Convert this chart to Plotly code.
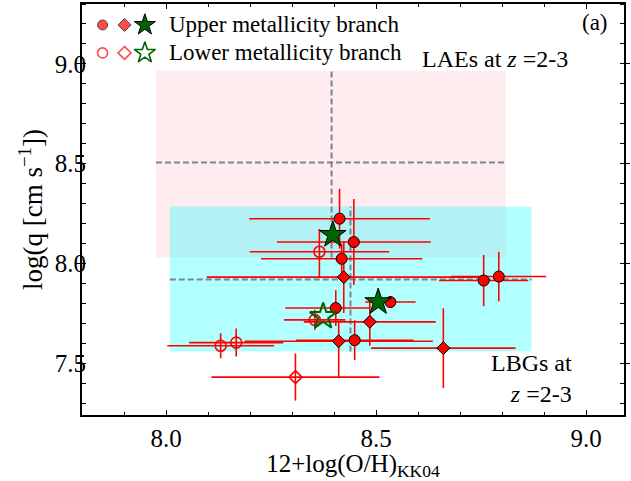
import plotly.graph_objects as go

# ---------------- data ----------------
# Upper metallicity branch: filled circles
up_circ_x = [8.413, 8.447, 8.418, 8.404, 8.449, 8.534, 8.756, 8.792]
up_circ_y = [8.224, 8.107, 8.023, 7.776, 7.615, 7.806, 7.914, 7.934]
up_circ_xm = [0.215, 0.183, 0.192, 0.12, 0.14, 0.06, 0.106, 0.113]
up_circ_xp = [0.215, 0.183, 0.192, 0.08, 0.14, 0.06, 0.106, 0.113]
up_circ_ym = [0.15, 0.216, 0.075, 0.09, 0.10, 0.03, 0.128, 0.124]
up_circ_yp = [0.15, 0.216, 0.075, 0.09, 0.10, 0.03, 0.128, 0.124]

# Upper metallicity branch: filled diamonds
up_diam_x = [8.423, 8.485, 8.411, 8.660]
up_diam_y = [7.931, 7.707, 7.610, 7.575]
up_diam_xm = [0.326, 0.157, 0.224, 0.172]
up_diam_xp = [0.326, 0.157, 0.224, 0.172]
up_diam_ym = [0.18, 0.12, 0.18, 0.20]
up_diam_yp = [0.18, 0.12, 0.10, 0.20]

# Upper metallicity branch: stars (stacks)
up_star_x = [8.397, 8.505]
up_star_y = [8.143, 7.806]

# Lower metallicity branch: open circles
lo_circ_x = [8.365, 8.130, 8.167, 8.354]
lo_circ_y = [8.058, 7.587, 7.603, 7.717]
lo_circ_xm = [0.166, 0.127, 0.112, 0.073]
lo_circ_xp = [0.166, 0.127, 0.112, 0.073]
lo_circ_ym = [0.128, 0.063, 0.07, 0.05]
lo_circ_yp = [0.114, 0.063, 0.07, 0.05]

# Lower metallicity branch: open diamonds
lo_diam_x = [8.308]
lo_diam_y = [7.430]
lo_diam_xm = [0.20]
lo_diam_xp = [0.20]
lo_diam_ym = [0.118]
lo_diam_yp = [0.118]

# Lower metallicity branch: stars
lo_star_x = [8.374]
lo_star_y = [7.734]

# Comparison samples: ranges and medians
lae_x_range = [7.976, 8.809]
lae_y_range = [8.030, 8.966]
lae_med = [8.394, 8.505]
lbg_x_range = [8.009, 8.870]
lbg_y_range = [7.558, 8.285]
lbg_med = [8.439, 7.919]

x_range = [7.8, 9.09]
y_range = [7.24, 9.30]

FONT = "Liberation Serif"
RED = "#ff0000"
GREEN = "#006400"
GRAY = "#7a8593"

fig = go.Figure()

# shaded regions
fig.add_shape(type="rect", x0=lae_x_range[0], x1=lae_x_range[1], y0=lae_y_range[0], y1=lae_y_range[1],
              fillcolor="rgba(255,192,203,0.3)", line_width=0, layer="below")
fig.add_shape(type="rect", x0=lbg_x_range[0], x1=lbg_x_range[1], y0=lbg_y_range[0], y1=lbg_y_range[1],
              fillcolor="rgba(0,255,255,0.3)", line_width=0, layer="below")
# dashed median crosses
for xr, yr, med in [(lae_x_range, lae_y_range, lae_med), (lbg_x_range, lbg_y_range, lbg_med)]:
    fig.add_shape(type="line", x0=med[0], x1=med[0], y0=yr[0], y1=yr[1],
                  line=dict(color=GRAY, width=2, dash="6px,3px"), layer="below")
    fig.add_shape(type="line", x0=xr[0], x1=xr[1], y0=med[1], y1=med[1],
                  line=dict(color=GRAY, width=2, dash="6px,3px"), layer="below")

# error bars (drawn first, under all markers)
all_x = up_circ_x + up_diam_x + lo_circ_x + lo_diam_x
all_y = up_circ_y + up_diam_y + lo_circ_y + lo_diam_y
all_xm = up_circ_xm + up_diam_xm + lo_circ_xm + lo_diam_xm
all_xp = up_circ_xp + up_diam_xp + lo_circ_xp + lo_diam_xp
all_ym = up_circ_ym + up_diam_ym + lo_circ_ym + lo_diam_ym
all_yp = up_circ_yp + up_diam_yp + lo_circ_yp + lo_diam_yp
fig.add_trace(go.Scatter(
    x=all_x, y=all_y, mode="markers", marker=dict(color="rgba(0,0,0,0)", size=1),
    error_x=dict(type="data", array=all_xp, arrayminus=all_xm, color=RED, thickness=1.6, width=0),
    error_y=dict(type="data", array=all_yp, arrayminus=all_ym, color=RED, thickness=1.6, width=0),
    showlegend=False, hoverinfo="skip"))

def pts(x, y, symbol, size, color, line_color, line_width):
    fig.add_trace(go.Scatter(x=x, y=y, mode="markers",
                             marker=dict(symbol=symbol, size=size, color=color,
                                         line=dict(color=line_color, width=line_width)),
                             showlegend=False))

pts(lo_circ_x, lo_circ_y, "circle-open", 11, RED, RED, 1.6)
pts(lo_diam_x, lo_diam_y, "diamond-open", 10, RED, RED, 1.6)
pts(up_circ_x, up_circ_y, "circle", 11, RED, "black", 1)
pts(up_diam_x, up_diam_y, "diamond", 10, RED, "black", 1)
pts(lo_star_x, lo_star_y, "star-open", 20, GREEN, GREEN, 2)
pts(up_star_x, up_star_y, "star", 20, GREEN, "black", 1)

# legend symbols on an overlay axis in plot-fraction units
leg_rows = [0.949, 0.881]
leg_cols = [0.038, 0.0785, 0.116]
fig.add_trace(go.Scatter(x=leg_cols[:2], y=[leg_rows[0]] * 2, xaxis="x2", yaxis="y2", mode="markers",
                         marker=dict(symbol=["circle", "diamond"], size=[10, 10], color=RED,
                                     line=dict(color="black", width=1)), showlegend=False, hoverinfo="skip"))
fig.add_trace(go.Scatter(x=[leg_cols[2]], y=[leg_rows[0]], xaxis="x2", yaxis="y2", mode="markers",
                         marker=dict(symbol="star", size=16, color=GREEN,
                                     line=dict(color="black", width=1)), showlegend=False, hoverinfo="skip"))
fig.add_trace(go.Scatter(x=leg_cols[:2], y=[leg_rows[1]] * 2, xaxis="x2", yaxis="y2", mode="markers",
                         marker=dict(symbol=["circle-open", "diamond-open"], size=[10, 10], color=RED,
                                     line=dict(color=RED, width=1.6)), showlegend=False, hoverinfo="skip"))
fig.add_trace(go.Scatter(x=[leg_cols[2]], y=[leg_rows[1]], xaxis="x2", yaxis="y2", mode="markers",
                         marker=dict(symbol="star-open", size=16, color=GREEN,
                                     line=dict(color=GREEN, width=1.6)), showlegend=False, hoverinfo="skip"))

annos = [
    dict(x=0.157, y=leg_rows[0], text="Upper metallicity branch", xanchor="left", yanchor="middle", size=23),
    dict(x=0.157, y=leg_rows[1], text="Lower metallicity branch", xanchor="left", yanchor="middle", size=23),
    dict(x=0.975, y=0.955, text="(a)", xanchor="right", yanchor="middle", size=23),
    dict(x=0.9, y=0.866, text="LAEs at <i>z</i> =2-3", xanchor="right", yanchor="middle", size=24),
    dict(x=0.907, y=0.088, text="LBGs at<br><i>z</i> =2-3", xanchor="right", yanchor="middle", size=24),
]
for a in annos:
    fig.add_annotation(x=a["x"], y=a["y"], xref="paper", yref="paper", text=a["text"],
                       xanchor=a["xanchor"], yanchor=a["yanchor"], showarrow=False, align="right",
                       font=dict(family=FONT, size=a["size"], color="black"))

axis_common = dict(showline=True, linewidth=2, linecolor="black", mirror="ticks", showgrid=False,
                   zeroline=False, tickcolor="black", tickwidth=1.2,
                   tickfont=dict(family=FONT, size=25, color="black"))
fig.update_layout(
    width=631, height=481,
    margin=dict(l=82, r=1, t=4, b=66),
    paper_bgcolor="white", plot_bgcolor="white",
    font=dict(family=FONT, color="black"),
    xaxis=dict(range=x_range, tick0=8.0, dtick=0.5, tickformat=".1f", ticks="inside", ticklen=5,
               minor=dict(tick0=8.0, dtick=0.1, ticks="inside", ticklen=3, tickcolor="black"),
               title=dict(text="12+log(O/H)<sub>KK04</sub>", font=dict(family=FONT, size=25), standoff=4),
               **axis_common),
    yaxis=dict(range=y_range, tick0=7.5, dtick=0.5, tickformat=".1f", ticks="outside", ticklen=4,
               ticklabelstandoff=-15,
               minor=dict(tick0=7.5, dtick=0.1, ticks="inside", ticklen=4, tickcolor="black"),
               title=dict(text="log(q [cm s<sup>\u22121</sup>])", font=dict(family=FONT, size=27), standoff=4),
               **axis_common),
    xaxis2=dict(range=[0, 1], overlaying="x", visible=False),
    yaxis2=dict(range=[0, 1], overlaying="y", visible=False),
)

fig.write_html("out.html")
